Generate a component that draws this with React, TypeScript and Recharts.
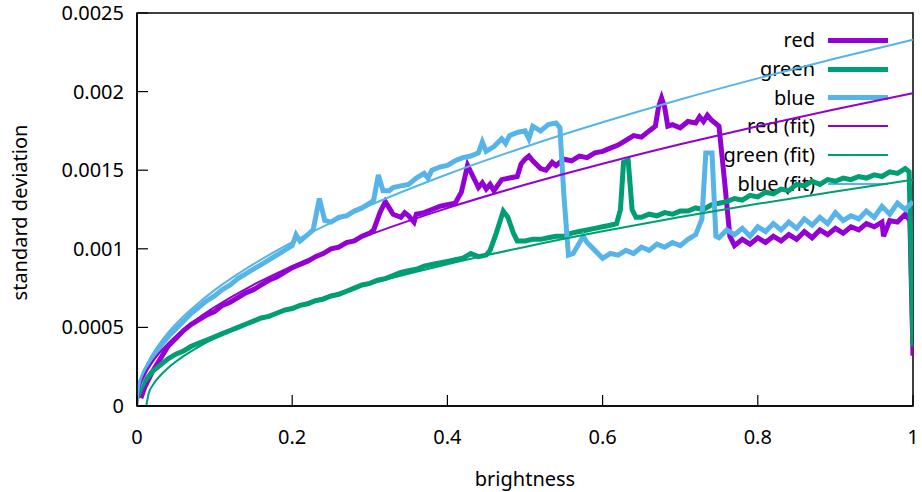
import { LineChart, Line, XAxis, YAxis, ReferenceArea } from 'recharts'

document.body.style.margin = '0'

const RED = '#9400d3'
const GREEN = '#009e73'
const BLUE = '#56b4e9'
const TICK = 11

const xTicks = [0, 0.2, 0.4, 0.6, 0.8, 1]
const xTickLabels = ['0', '0.2', '0.4', '0.6', '0.8', '1']
const yTicks = [0, 0.0005, 0.001, 0.0015, 0.002, 0.0025]
const yTickLabels = ['0', '0.0005', '0.001', '0.0015', '0.002', '0.0025']

// measured std-dev per brightness, [brightness, sd]
const redPoints: [number, number][] = [
  [0.005, 0.00005], [0.01, 0.00012], [0.02, 0.00022], [0.03, 0.0003], [0.04, 0.00038],
  [0.05, 0.00043], [0.06, 0.00048], [0.07, 0.00052], [0.08, 0.00055], [0.09, 0.00058],
  [0.1, 0.0006], [0.11, 0.00064], [0.12, 0.00066], [0.13, 0.00069], [0.14, 0.00072],
  [0.15, 0.00074], [0.16, 0.00077], [0.17, 0.0008], [0.18, 0.00082], [0.19, 0.00085],
  [0.2, 0.00088], [0.21, 0.0009], [0.22, 0.00092], [0.23, 0.00095], [0.24, 0.00097],
  [0.25, 0.001], [0.26, 0.00101], [0.27, 0.00104], [0.28, 0.00105], [0.29, 0.00108],
  [0.3, 0.0011], [0.305, 0.00112], [0.313, 0.00123], [0.32, 0.0013], [0.325, 0.00126],
  [0.33, 0.00122], [0.34, 0.0012], [0.345, 0.00123], [0.35, 0.00121], [0.357, 0.00117],
  [0.36, 0.00122], [0.37, 0.00123], [0.38, 0.00125], [0.39, 0.00127], [0.4, 0.00128],
  [0.41, 0.00129], [0.418, 0.00136], [0.426, 0.00153], [0.433, 0.00146], [0.44, 0.00139],
  [0.445, 0.00142], [0.45, 0.00138], [0.455, 0.00141], [0.46, 0.00137], [0.47, 0.00144],
  [0.48, 0.00145], [0.49, 0.00146], [0.495, 0.00154], [0.5, 0.00157], [0.505, 0.00159],
  [0.51, 0.00156], [0.52, 0.00151], [0.527, 0.0015], [0.535, 0.00155], [0.54, 0.00153],
  [0.55, 0.00157], [0.56, 0.00156], [0.57, 0.00159], [0.58, 0.00158], [0.59, 0.00161],
  [0.6, 0.00162], [0.61, 0.00164], [0.62, 0.00166], [0.63, 0.00169], [0.64, 0.00172],
  [0.65, 0.00171], [0.66, 0.00175], [0.668, 0.00178], [0.672, 0.0019], [0.676, 0.00196],
  [0.68, 0.0019], [0.684, 0.00178], [0.69, 0.00179], [0.7, 0.00177], [0.71, 0.00181],
  [0.72, 0.0018], [0.725, 0.00184], [0.73, 0.00181], [0.735, 0.00185], [0.74, 0.00182],
  [0.745, 0.0018], [0.75, 0.00178], [0.757, 0.00144], [0.764, 0.00108], [0.77, 0.00102],
  [0.78, 0.00106], [0.79, 0.00103], [0.8, 0.00107], [0.81, 0.00104], [0.82, 0.00108],
  [0.83, 0.00105], [0.84, 0.00109], [0.85, 0.00106], [0.86, 0.00111], [0.87, 0.00107],
  [0.88, 0.00112], [0.89, 0.00109], [0.9, 0.00113], [0.91, 0.0011], [0.92, 0.00114],
  [0.93, 0.00112], [0.94, 0.00116], [0.95, 0.00114], [0.96, 0.00117], [0.962, 0.00108],
  [0.97, 0.00118], [0.98, 0.00117], [0.99, 0.00122], [0.996, 0.00118], [1, 0.00032],
]

const greenPoints: [number, number][] = [
  [0, 0.00005], [0.005, 0.00011], [0.01, 0.00016], [0.02, 0.00022], [0.03, 0.00026],
  [0.04, 0.0003], [0.05, 0.00033], [0.06, 0.00035], [0.07, 0.00038], [0.08, 0.0004],
  [0.09, 0.00042], [0.1, 0.00044], [0.11, 0.00046], [0.12, 0.00048], [0.13, 0.0005],
  [0.14, 0.00052], [0.15, 0.00054], [0.16, 0.00056], [0.17, 0.00057], [0.18, 0.00059],
  [0.19, 0.00061], [0.2, 0.00062], [0.21, 0.00064], [0.22, 0.00065], [0.23, 0.00067],
  [0.24, 0.00068], [0.25, 0.0007], [0.26, 0.00071], [0.27, 0.00073], [0.28, 0.00075],
  [0.29, 0.00077], [0.3, 0.00078], [0.31, 0.0008], [0.32, 0.00081], [0.33, 0.00083],
  [0.34, 0.00085], [0.35, 0.00086], [0.36, 0.00087], [0.37, 0.00089], [0.38, 0.0009],
  [0.39, 0.00091], [0.4, 0.00092], [0.41, 0.00093], [0.42, 0.00094], [0.43, 0.00097],
  [0.44, 0.00095], [0.45, 0.00096], [0.455, 0.00099], [0.463, 0.0011], [0.472, 0.00124],
  [0.478, 0.0012], [0.485, 0.0011], [0.49, 0.00105], [0.5, 0.00105], [0.51, 0.00106],
  [0.52, 0.00106], [0.53, 0.00107], [0.54, 0.00108], [0.55, 0.00108], [0.56, 0.0011],
  [0.57, 0.00111], [0.58, 0.00112], [0.59, 0.00113], [0.6, 0.00114], [0.61, 0.00115],
  [0.618, 0.00116], [0.623, 0.00125], [0.627, 0.00155], [0.633, 0.00156], [0.638, 0.00125],
  [0.643, 0.0012], [0.65, 0.0012], [0.66, 0.00122], [0.67, 0.00121], [0.68, 0.00123],
  [0.69, 0.00122], [0.7, 0.00124], [0.71, 0.00124], [0.72, 0.00126], [0.73, 0.00125],
  [0.74, 0.00128], [0.75, 0.00129], [0.76, 0.0013], [0.77, 0.00132], [0.78, 0.00131],
  [0.79, 0.00134], [0.8, 0.00133], [0.81, 0.00136], [0.82, 0.00135], [0.83, 0.00138],
  [0.84, 0.00137], [0.85, 0.00141], [0.86, 0.0014], [0.87, 0.00143], [0.88, 0.00141],
  [0.89, 0.00144], [0.9, 0.00143], [0.91, 0.00145], [0.92, 0.00144], [0.93, 0.00146],
  [0.94, 0.00145], [0.95, 0.00147], [0.96, 0.00146], [0.97, 0.00149], [0.98, 0.00148],
  [0.99, 0.00151], [0.995, 0.00149], [1, 0.00038],
]

const bluePoints: [number, number][] = [
  [0, 0.00009], [0.005, 0.00016], [0.01, 0.00022], [0.02, 0.00031], [0.03, 0.00038],
  [0.04, 0.00044], [0.05, 0.00049], [0.06, 0.00054], [0.07, 0.00059], [0.08, 0.00063],
  [0.09, 0.00067], [0.1, 0.0007], [0.11, 0.00074], [0.12, 0.00077], [0.13, 0.00081],
  [0.14, 0.00084], [0.15, 0.00087], [0.16, 0.0009], [0.17, 0.00093], [0.18, 0.00096],
  [0.19, 0.00099], [0.2, 0.00102], [0.205, 0.00109], [0.21, 0.00105], [0.22, 0.00109],
  [0.227, 0.00112], [0.235, 0.00132], [0.242, 0.00118], [0.25, 0.00117], [0.26, 0.0012],
  [0.27, 0.00121], [0.28, 0.00124], [0.29, 0.00126], [0.3, 0.00129], [0.305, 0.00131],
  [0.311, 0.00147], [0.317, 0.00137], [0.325, 0.00137], [0.33, 0.00139], [0.34, 0.0014],
  [0.35, 0.00141], [0.36, 0.00145], [0.37, 0.00148], [0.375, 0.00145], [0.38, 0.0015],
  [0.39, 0.00152], [0.4, 0.00153], [0.41, 0.00156], [0.42, 0.00158], [0.43, 0.00159],
  [0.44, 0.00161], [0.445, 0.00168], [0.45, 0.00162], [0.46, 0.00165], [0.47, 0.0017],
  [0.475, 0.00167], [0.48, 0.00172], [0.49, 0.00174], [0.5, 0.00175], [0.505, 0.0017],
  [0.51, 0.00178], [0.52, 0.00175], [0.53, 0.00179], [0.54, 0.0018], [0.545, 0.00177],
  [0.55, 0.00135], [0.556, 0.00096], [0.562, 0.00097], [0.568, 0.00102], [0.575, 0.00108],
  [0.58, 0.00104], [0.59, 0.00099], [0.6, 0.00094], [0.61, 0.00097], [0.62, 0.00096],
  [0.63, 0.00099], [0.64, 0.00097], [0.65, 0.00101], [0.66, 0.00099], [0.67, 0.00103],
  [0.68, 0.00101], [0.69, 0.00104], [0.7, 0.00102], [0.71, 0.00106], [0.72, 0.00109],
  [0.728, 0.00119], [0.733, 0.00161], [0.741, 0.00161], [0.746, 0.00108], [0.75, 0.00107],
  [0.76, 0.00112], [0.77, 0.00109], [0.78, 0.00113], [0.79, 0.00108], [0.8, 0.00114],
  [0.81, 0.00111], [0.82, 0.00116], [0.83, 0.00112], [0.84, 0.00117], [0.85, 0.00113],
  [0.86, 0.00119], [0.87, 0.00115], [0.88, 0.0012], [0.89, 0.00116], [0.9, 0.00123],
  [0.91, 0.00118], [0.92, 0.00121], [0.93, 0.00119], [0.94, 0.00124], [0.95, 0.0012],
  [0.96, 0.00127], [0.97, 0.00122], [0.98, 0.00129], [0.99, 0.00125], [1, 0.0013],
]

const fitX = [0, 0.003, 0.01, 0.02, 0.04, 0.06, 0.08, 0.1, 0.15, 0.2, 0.3, 0.4, 0.5, 0.6, 0.7, 0.8, 0.9, 1]
const redFit = [0, 0.000109, 0.000199, 0.000281, 0.000398, 0.000487, 0.000563, 0.000629, 0.000771, 0.00089, 0.00109, 0.001259, 0.001407, 0.001541, 0.001665, 0.00178, 0.001888, 0.00199]
const blueFit = [0, 0.000128, 0.000233, 0.000329, 0.000466, 0.000571, 0.000659, 0.000737, 0.000902, 0.001042, 0.001276, 0.001474, 0.001648, 0.001805, 0.00195, 0.002084, 0.00221, 0.00233]
const greenFitX = [0.012, 0.015, 0.02, 0.03, 0.04, 0.06, 0.08, 0.1, 0.15, 0.2, 0.3, 0.4, 0.5, 0.6, 0.7, 0.8, 0.9, 1]
const greenFit = [0, 0.0000793, 0.00013, 0.000194, 0.000242, 0.000317, 0.000378, 0.00043, 0.000538, 0.000628, 0.000777, 0.000902, 0.001012, 0.001111, 0.001202, 0.001286, 0.001365, 0.00144]

const seriesNames = ['red', 'green', 'blue', 'red (fit)', 'green (fit)', 'blue (fit)']

const toRows = (pts: [number, number][]) => pts.map(([x, y]) => ({ x, y }))
const zipRows = (xs: number[], ys: number[]) => xs.map((x, i) => ({ x, y: ys[i] }))

const series = [
  { name: seriesNames[0], data: toRows(redPoints), color: RED, width: 5 },
  { name: seriesNames[1], data: toRows(greenPoints), color: GREEN, width: 5 },
  { name: seriesNames[2], data: toRows(bluePoints), color: BLUE, width: 5 },
  { name: seriesNames[3], data: zipRows(fitX, redFit), color: RED, width: 2 },
  { name: seriesNames[4], data: zipRows(greenFitX, greenFit), color: GREEN, width: 2 },
  { name: seriesNames[5], data: zipRows(fitX, blueFit), color: BLUE, width: 2 },
]

const axisLine = { stroke: '#000', strokeWidth: 1.5 }

function BottomTick({ x, y, payload }: any) {
  return (
    <g>
      <line x1={x} x2={x} y1={y} y2={y - TICK} stroke="#000" strokeWidth={1.2} />
      <text x={x} y={y + 38} textAnchor="middle" fontSize={20} fill="#000">
        {xTickLabels[xTicks.indexOf(payload.value)]}
      </text>
    </g>
  )
}

function TopTick({ x, y }: any) {
  return <line x1={x} x2={x} y1={y} y2={y + TICK} stroke="#000" strokeWidth={1.2} />
}

function LeftTick({ x, y, payload }: any) {
  return (
    <g>
      <line x1={x} x2={x + TICK} y1={y} y2={y} stroke="#000" strokeWidth={1.2} />
      <text x={x - 13} y={y + 7} textAnchor="end" fontSize={20} fill="#000">
        {yTickLabels[yTicks.indexOf(payload.value)]}
      </text>
    </g>
  )
}

function RightTick({ x, y }: any) {
  return <line x1={x} x2={x - TICK} y1={y} y2={y} stroke="#000" strokeWidth={1.2} />
}

function XTitle({ viewBox }: any) {
  return (
    <text x={viewBox.x + viewBox.width / 2} y={viewBox.y + 80} textAnchor="middle" fontSize={20} fill="#000">
      brightness
    </text>
  )
}

function YTitle({ viewBox }: any) {
  const cx = viewBox.x + 27
  const cy = viewBox.y + viewBox.height / 2 + 3
  return (
    <text x={cx} y={cy} transform={`rotate(-90 ${cx} ${cy})`} textAnchor="middle" fontSize={20} fill="#000">
      standard deviation
    </text>
  )
}

export default function App() {
  return (
    <div style={{ position: 'relative', width: 922, height: 492, fontFamily: "'Noto Sans', sans-serif", background: '#fff' }}>
      <div style={{ position: 'absolute', top: 26, right: 34 }}>
        {series.map((s) => (
          <div key={s.name} style={{ display: 'flex', alignItems: 'center', justifyContent: 'flex-end', height: 28.7 }}>
            <span style={{ fontSize: 20, lineHeight: 1, color: '#000' }}>{s.name}</span>
            <span style={{ display: 'inline-block', width: 60, height: s.width, background: s.color, marginLeft: 13 }} />
          </div>
        ))}
      </div>
      <LineChart width={922} height={492} margin={{ top: 13, right: 9, left: 0, bottom: 0 }}>
        <XAxis
          dataKey="x"
          type="number"
          domain={[0, 1]}
          ticks={xTicks}
          interval={0}
          height={86}
          tickSize={0}
          tickMargin={0}
          tickLine={false}
          axisLine={axisLine}
          tick={<BottomTick />}
          label={{ content: <XTitle /> }}
          allowDataOverflow
        />
        <XAxis
          xAxisId="top"
          orientation="top"
          dataKey="x"
          type="number"
          domain={[0, 1]}
          ticks={xTicks}
          interval={0}
          height={0}
          tickSize={0}
          tickMargin={0}
          tickLine={false}
          axisLine={axisLine}
          tick={<TopTick />}
          allowDataOverflow
        />
        <YAxis
          type="number"
          domain={[0, 0.0025]}
          ticks={yTicks}
          interval={0}
          width={137}
          tickSize={0}
          tickMargin={0}
          tickLine={false}
          axisLine={axisLine}
          tick={<LeftTick />}
          label={{ content: <YTitle /> }}
          allowDataOverflow
        />
        <YAxis
          yAxisId="right"
          orientation="right"
          type="number"
          domain={[0, 0.0025]}
          ticks={yTicks}
          interval={0}
          width={0}
          tickSize={0}
          tickMargin={0}
          tickLine={false}
          axisLine={axisLine}
          tick={<RightTick />}
          allowDataOverflow
        />
        <ReferenceArea x1={0} x2={1} y1={0} y2={0.0025} fill="none" stroke="#000" strokeWidth={1.5} />
        {series.map((s, i) => (
          <Line
            key={s.name}
            data={s.data}
            dataKey="y"
            name={s.name}
            type={i < 3 ? 'linear' : 'monotone'}
            stroke={s.color}
            strokeWidth={s.width}
            dot={false}
            activeDot={false}
            isAnimationActive={false}
          />
        ))}
      </LineChart>
    </div>
  )
}
